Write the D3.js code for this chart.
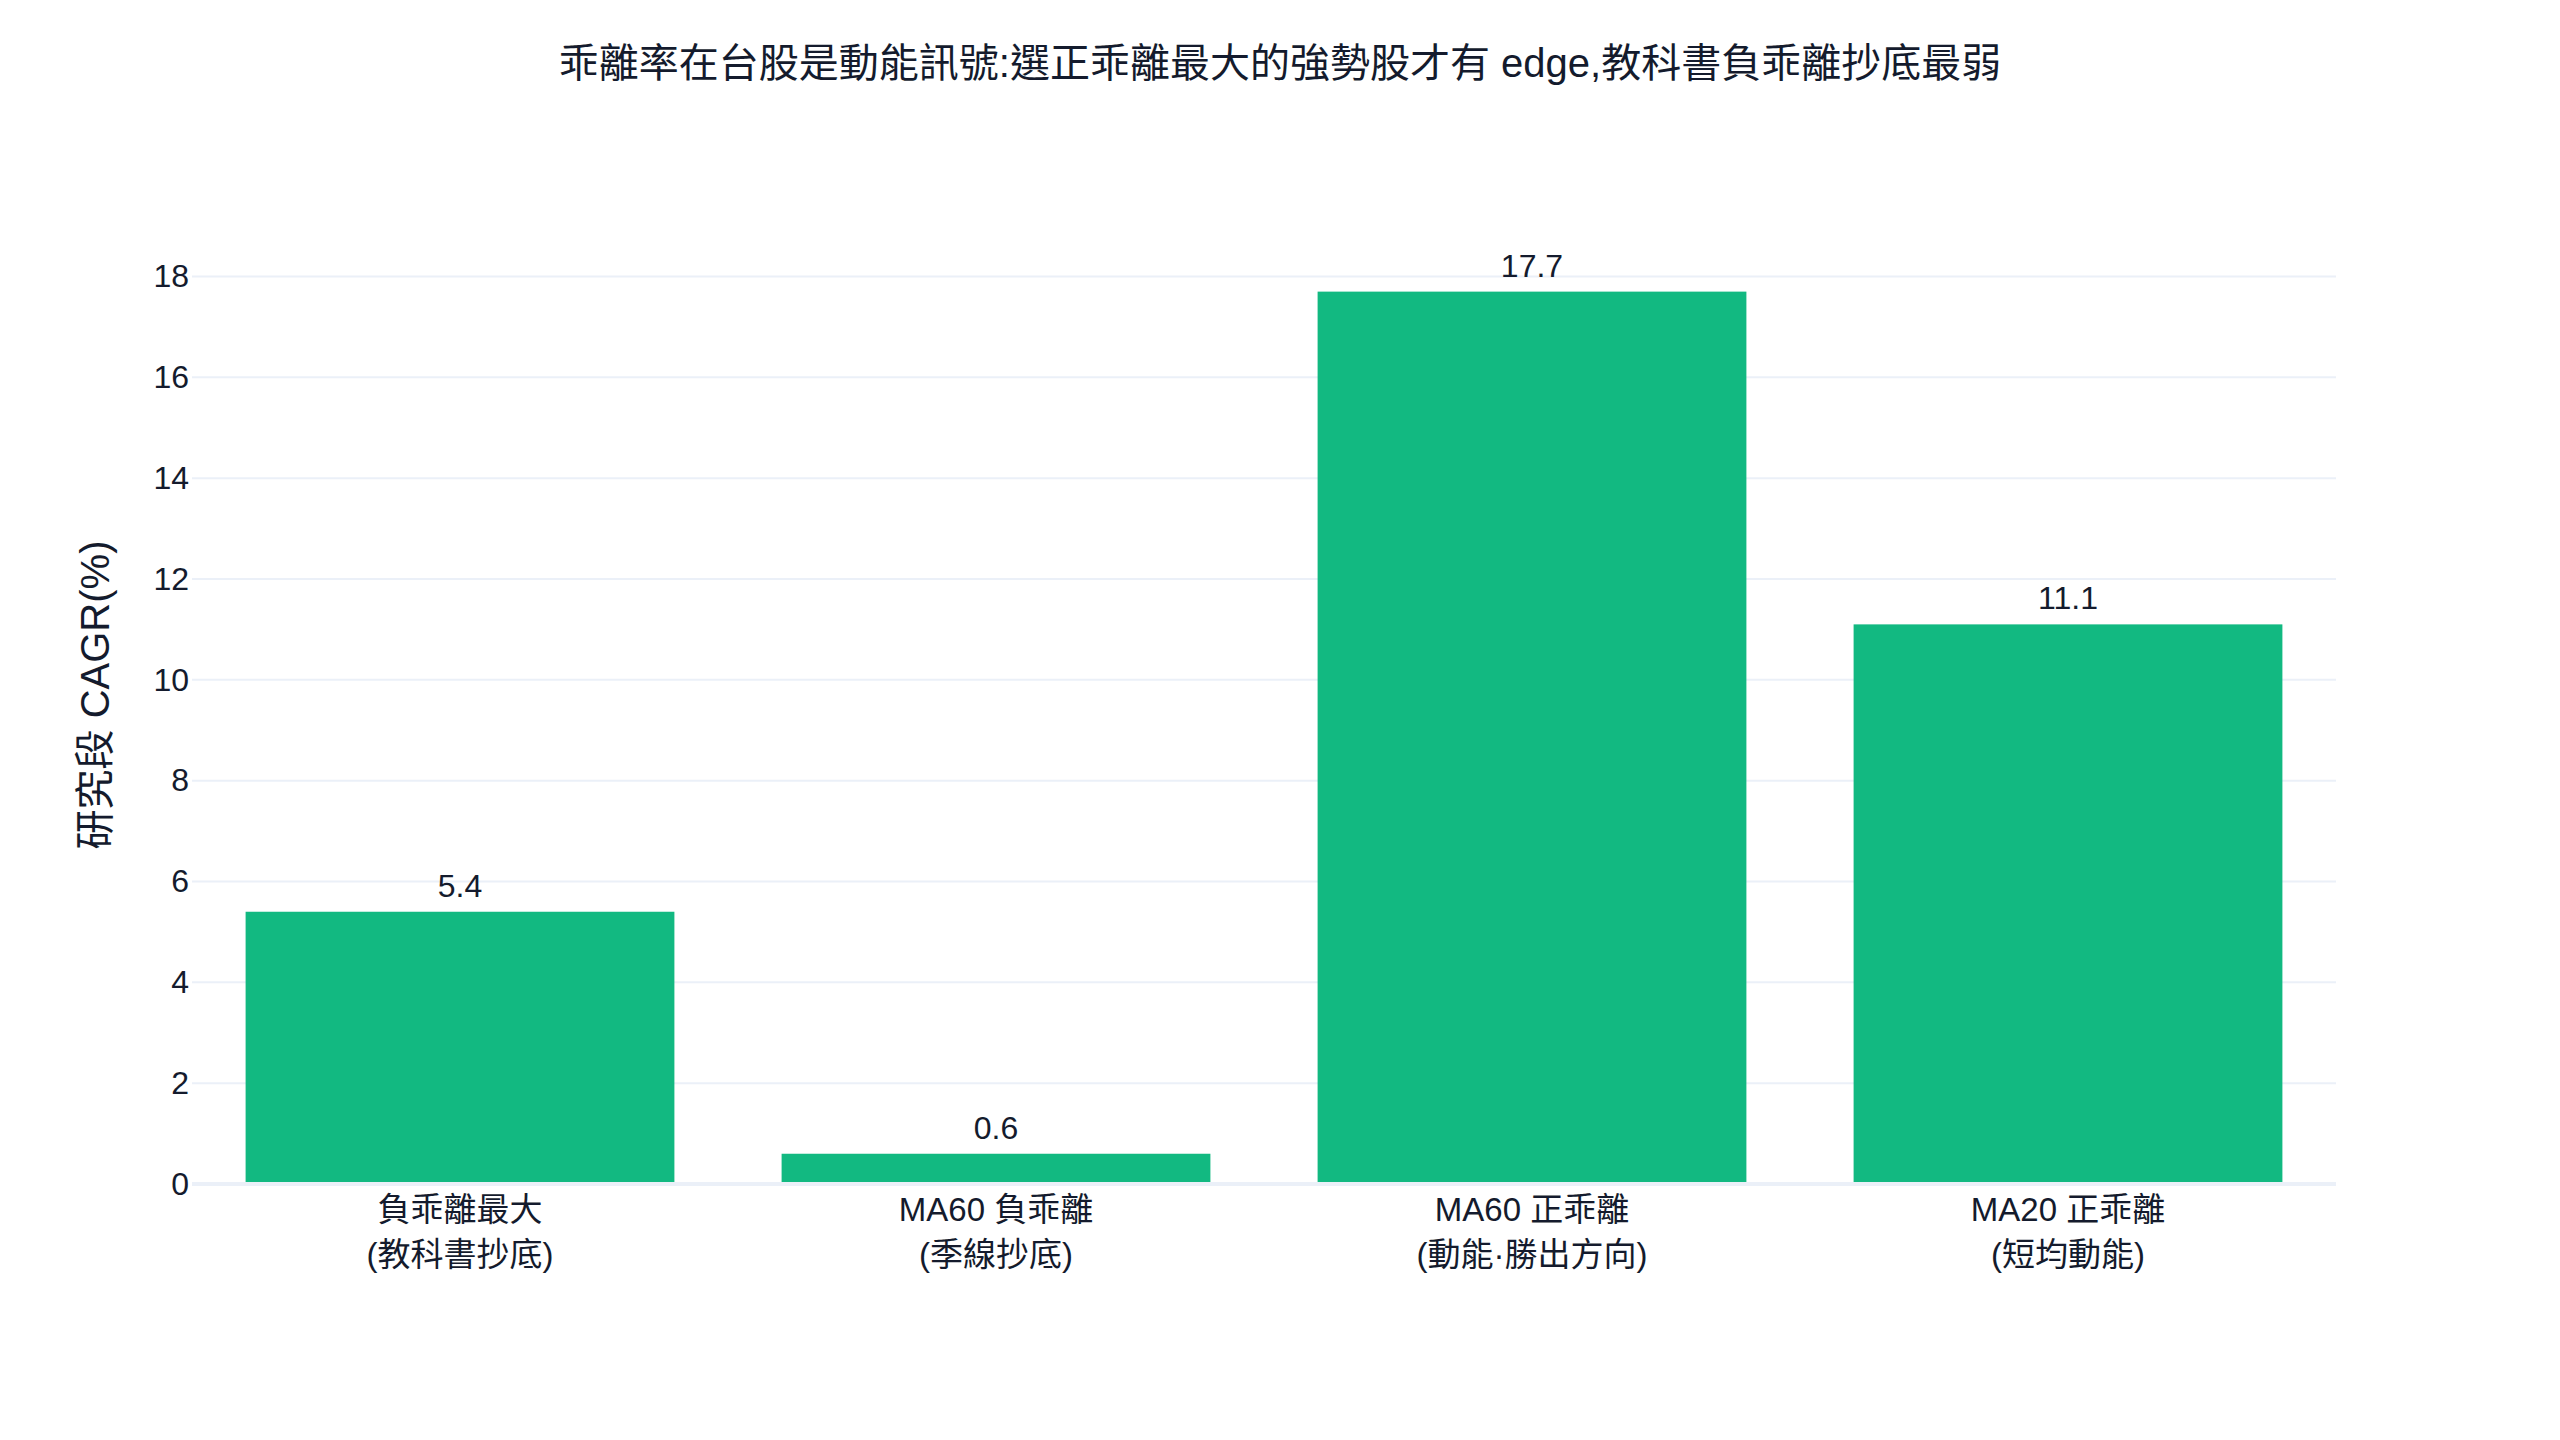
<!DOCTYPE html>
<html>
<head>
<meta charset="utf-8">
<script src="https://cdn.jsdelivr.net/npm/d3@7/dist/d3.min.js"></script>
<style>
  html, body { margin: 0; padding: 0; background: #ffffff; }
  svg { display: block; }
  text { font-family: "Liberation Sans", Arial, "Noto Sans CJK TC", sans-serif; fill: #141b2d; }
</style>
</head>
<body>
<script>
// ---- data ----
const categoryLine1 = ["負乖離最大", "MA60 負乖離", "MA60 正乖離", "MA20 正乖離"];
const categoryLine2 = ["(教科書抄底)", "(季線抄底)", "(動能·勝出方向)", "(短均動能)"];
const cagrValues = [5.4, 0.6, 17.7, 11.1];
const valueLabels = ["5.4", "0.6", "17.7", "11.1"];
const yTicks = [0, 2, 4, 6, 8, 10, 12, 14, 16, 18];
const titleText = "乖離率在台股是動能訊號:選正乖離最大的強勢股才有 edge,教科書負乖離抄底最弱";
const yAxisTitle = "研究段 CAGR(%)";

// ---- layout ----
const W = 2560, H = 1440;
const plotLeft = 192, plotRight = 2336;
const plotBottom = 1184;
const yMax = 18.63;
const unit = (1184 - 276.5) / 18;
const plotTop = plotBottom - yMax * unit;

const svg = d3.select("body").append("svg").attr("width", W).attr("height", H);

const idx = d3.range(cagrValues.length);
const x = d3.scaleBand().domain(idx).range([plotLeft, plotRight]).paddingInner(0.2).paddingOuter(0.1);
const y = d3.scaleLinear().domain([0, yMax]).range([plotBottom, plotTop]);

// gridlines
svg.append("g").selectAll("line").data(yTicks.filter(t => t !== 0)).join("line")
  .attr("x1", plotLeft).attr("x2", plotRight)
  .attr("y1", d => y(d)).attr("y2", d => y(d))
  .attr("stroke", "#EBF0F8").attr("stroke-width", 2);

// y tick labels via axis
const yAxis = d3.axisLeft(y).tickValues(yTicks).tickSize(0).tickPadding(0).tickFormat(d3.format("d"));
const yg = svg.append("g").attr("transform", `translate(${plotLeft - 3},0)`).call(yAxis);
yg.select(".domain").remove();
yg.selectAll("text").attr("font-size", 32).attr("fill", "#141b2d")
  .style("font-family", '"Liberation Sans", Arial, sans-serif');

// bars
svg.append("g").selectAll("rect").data(idx).join("rect")
  .attr("x", i => x(i)).attr("width", x.bandwidth())
  .attr("y", i => y(cagrValues[i])).attr("height", i => plotBottom - y(cagrValues[i]))
  .attr("fill", "#12b981");

// zero line
svg.append("line")
  .attr("x1", plotLeft).attr("x2", plotRight)
  .attr("y1", y(0)).attr("y2", y(0))
  .attr("stroke", "#EBF0F8").attr("stroke-width", 4);

// value labels
svg.append("g").selectAll("text").data(idx).join("text")
  .attr("x", i => x(i) + x.bandwidth() / 2)
  .attr("y", i => y(cagrValues[i]) - 15)
  .attr("text-anchor", "middle").attr("font-size", 32)
  .text(i => valueLabels[i]);

// x tick labels
const xl = svg.append("g").selectAll("text").data(idx).join("text")
  .attr("text-anchor", "middle").attr("font-size", 33);
xl.append("tspan").attr("x", i => x(i) + x.bandwidth() / 2).attr("y", 1221).text(i => categoryLine1[i]);
xl.append("tspan").attr("x", i => x(i) + x.bandwidth() / 2).attr("y", 1266).text(i => categoryLine2[i]);

// title
svg.append("text").attr("x", 1280).attr("y", 77).attr("text-anchor", "middle")
  .attr("font-size", 40).text(titleText);

// y axis title
svg.append("text").attr("transform", "translate(95,695) rotate(-90)")
  .attr("text-anchor", "middle").attr("dominant-baseline", "central")
  .attr("font-size", 40).text(yAxisTitle);
</script>
</body>
</html>
